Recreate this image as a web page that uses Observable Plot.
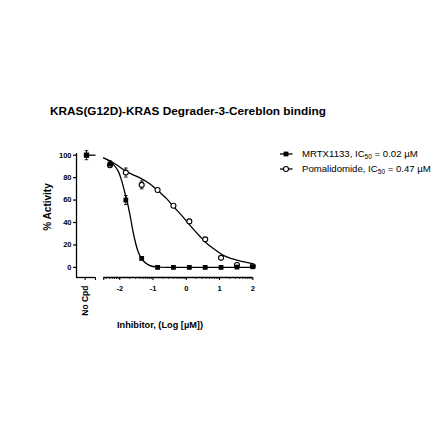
<!DOCTYPE html>
<html><head><meta charset="utf-8">
<script src="https://cdn.jsdelivr.net/npm/d3@7"></script>
<script src="https://cdn.jsdelivr.net/npm/@observablehq/plot@0.6"></script>
<style>body{margin:0;background:#fff}</style>
</head><body><div id="chart"></div>
<script>
const FONT = "'Liberation Sans', Arial, Helvetica, sans-serif";
const title = "KRAS(G12D)-KRAS Degrader-3-Cereblon binding";
const xLabel = "Inhibitor, (Log [µM])";
const yLabel = "% Activity";
const noCpdLabel = "No Cpd";
const seriesNames = ["MRTX1133", "Pomalidomide"];
const ic50Labels = ["0.02 µM", "0.47 µM"];

// measured points (log10 µM)
const logConc = [-2.294, -1.817, -1.34, -0.863, -0.386, 0.092, 0.569, 1.046, 1.523, 2.0];
const mrtxMean = [92, 60, 8, 0, 0, 0, 0, 0, 0.3, 0.6];
const mrtxErr  = [3, 4, 1, 0, 0, 0, 0, 0, 0, 0];
const pomMean  = [91, 84.5, 73.5, 69, 55, 41, 25, 8.5, 2.2, 1];
const pomErr   = [2, 4, 3.5, 0, 0, 0, 0, 0, 0, 0];

// no-compound control
const noCpdX = [-3];
const noCpdMean = [100];
const noCpdErr = [4];

// fitted curves
const mrtxFitX = [-2.48, -2.35, -2.2, -2.05, -1.95, -1.85, -1.78, -1.7, -1.62, -1.55, -1.47, -1.38, -1.28, -1.15, -1.0, -0.8, -0.5, 2.0];
const mrtxFitY = [97.5, 95.5, 92, 86, 78, 67, 59, 48, 35, 25, 16, 9.5, 5.5, 2.5, 0.8, 0.2, 0, 0];
const pomFitX = [-2.48, -2.3, -2.1, -1.83, -1.6, -1.38, -1.1, -0.875, -0.6, -0.376, -0.1, 0.126, 0.4, 0.63, 0.9, 1.13, 1.4, 1.63, 2.0];
const pomFitY = [97.5, 95, 91.5, 86, 82.5, 79.5, 74.5, 69, 61.5, 54, 45, 37, 28, 21, 15, 10.5, 7.5, 5.5, 3.3];

// axes
const xDomain = [-3.3, 2.0];
const yDomain = [-9, 101.5];
const yTicks = [0, 20, 40, 60, 80, 100];
const xTicks = [-2, -1, 0, 1, 2];
const xTickLabels = ["-2", "-1", "0", "1", "2"];
const axisSegments = [[-3.3, -2.73], [-2.48, 2.0]];
const segmentEnds = [-2.73, -2.48];
const noCpdTick = [-2.95];
const minorTicks = [];
for (let d = -3; d < 2; d++) for (let k = 2; k <= 9; k++) {
  const v = d + Math.log10(k);
  if (v > -2.48 && v < 2) minorTicks.push(v);
}

const mrtxPts = logConc.map((x, i) => ({x, y: mrtxMean[i], e: mrtxErr[i]}));
const pomPts = logConc.map((x, i) => ({x, y: pomMean[i], e: pomErr[i]}));
const noCpdPts = noCpdX.map((x, i) => ({x, y: noCpdMean[i], e: noCpdErr[i]}));
const errPts = [...mrtxPts, ...pomPts, ...noCpdPts].filter(d => d.e > 0);
const capPts = errPts.flatMap(d => [{x: d.x, y: d.y + d.e}, {x: d.x, y: d.y - d.e}]);
const mrtxFit = mrtxFitX.map((x, i) => ({x, y: mrtxFitY[i]}));
const pomFit = pomFitX.map((x, i) => ({x, y: pomFitY[i]}));
const noCpdLine = noCpdPts.map(d => ({x1: d.x, x2: segmentEnds[0], y: d.y}));

const capSymbol = {draw(ctx, size) { const w = Math.sqrt(size) / 2; ctx.moveTo(-w, 0); ctx.lineTo(w, 0); }};

const plot = Plot.plot({
  width: 440, height: 440,
  marginLeft: 76, marginRight: 187.7, marginTop: 153, marginBottom: 163,
  style: {fontFamily: FONT, background: "white", color: "black"},
  x: {domain: xDomain},
  y: {domain: yDomain},
  marks: [
    Plot.ruleX([xDomain[0]], {strokeWidth: 1.3}),
    Plot.ruleY(axisSegments, {x1: d => d[0], x2: d => d[1], y: () => yDomain[0], strokeWidth: 1.3}),
    Plot.axisY(yTicks, {tickSize: 3, tickPadding: 2, fontSize: 7.5, fontWeight: "bold", label: null, strokeWidth: 1.2}),
    Plot.axisX(xTicks, {tickSize: 3, tickPadding: 5, fontSize: 7.5, fontWeight: "bold", label: null, strokeWidth: 1.1,
      tickFormat: d => xTickLabels[xTicks.indexOf(d)]}),
    Plot.axisX(minorTicks, {tickSize: 1.8, tickFormat: () => "", label: null, strokeWidth: 0.9}),
    Plot.axisX(segmentEnds, {tickSize: 3, tickFormat: () => "", label: null, strokeWidth: 1.1}),
    Plot.axisX(noCpdTick, {tickSize: 3, tickPadding: 5, fontSize: 8.5, fontWeight: "bold", label: null, strokeWidth: 1.1,
      tickRotate: -90, dx: -3, tickFormat: () => noCpdLabel}),
    Plot.line(mrtxFit, {x: "x", y: "y", curve: "catmull-rom", stroke: "black", strokeWidth: 1.3}),
    Plot.line(pomFit, {x: "x", y: "y", curve: "catmull-rom", stroke: "black", strokeWidth: 1.3}),
    Plot.link(noCpdLine, {x1: "x1", x2: "x2", y1: "y", y2: "y", stroke: "black", strokeWidth: 1.3}),
    Plot.ruleX(errPts, {x: "x", y1: d => d.y - d.e, y2: d => d.y + d.e, strokeWidth: 0.9}),
    Plot.dot(capPts, {x: "x", y: "y", symbol: capSymbol, r: 2, stroke: "black", strokeWidth: 0.9, fill: "none"}),
    Plot.dot(pomPts, {x: "x", y: "y", symbol: "circle", r: 2.5, stroke: "black", strokeWidth: 1.1, fill: "white"}),
    Plot.dot(mrtxPts, {x: "x", y: "y", symbol: "square", r: 2.7, fill: "black", stroke: "none"}),
    Plot.dot(noCpdPts, {x: "x", y: "y", symbol: "square", r: 3, fill: "black", stroke: "none"})
  ]
});

const svg = d3.select(plot);
svg.append("text").attr("x", 50).attr("y", 114.5).attr("text-anchor", "start").attr("font-family", FONT).attr("font-weight", "bold")
  .attr("font-size", 11.8).attr("fill", "black").text(title);
svg.append("text").attr("transform", "translate(51,207) rotate(-90)").attr("text-anchor", "middle")
  .attr("font-family", FONT).attr("font-weight", "bold").attr("font-size", 10).attr("fill", "black").text(yLabel);
svg.append("text").attr("x", 160).attr("y", 328).attr("text-anchor", "middle")
  .attr("font-family", FONT).attr("font-weight", "bold").attr("font-size", 9.2).attr("fill", "black").text(xLabel);

const lg = svg.append("g").attr("font-family", FONT).attr("fill", "black").attr("text-anchor", "start");
seriesNames.forEach((name, i) => {
  const yy = 154 + i * 15;
  lg.append("line").attr("x1", 280).attr("x2", 292.5).attr("y1", yy).attr("y2", yy).attr("stroke", "black").attr("stroke-width", 1.3);
  if (i === 0) {
    lg.append("rect").attr("x", 283.6).attr("y", yy - 2.4).attr("width", 4.8).attr("height", 4.8).attr("fill", "black");
  } else {
    lg.append("circle").attr("cx", 286).attr("cy", yy).attr("r", 2.5).attr("fill", "white").attr("stroke", "black").attr("stroke-width", 1.1);
  }
  const t = lg.append("text").attr("x", 302).attr("y", yy + 3.3).attr("font-size", 9.6).attr("text-anchor", "start");
  t.append("tspan").text(name + ", IC");
  t.append("tspan").attr("font-size", 6.6).attr("dy", 2).text("50");
  t.append("tspan").attr("dy", -2).text(" = " + ic50Labels[i]);
});

document.getElementById("chart").appendChild(plot);
</script>
</body></html>
